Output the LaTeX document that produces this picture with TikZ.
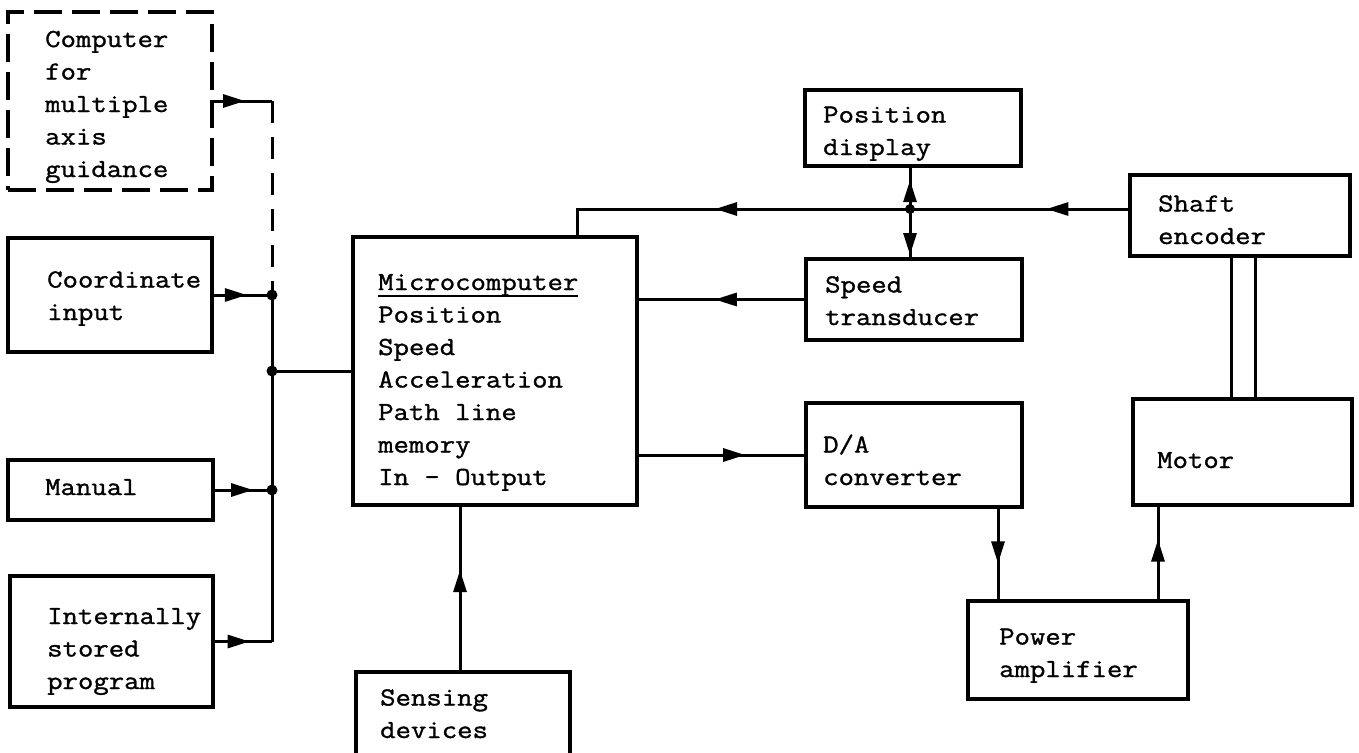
\documentclass[tikz,border=0pt]{standalone}
\usepackage{fontspec}
\newfontfamily\tw[FakeStretch=1.15,FakeBold=1.2]{Latin Modern Mono}
\usetikzlibrary{arrows.meta,decorations.markings}
\newcommand\ulword[1]{\setbox0\hbox{#1}\rlap{\rule[-7pt]{\wd0}{2.4pt}}\box0}
\begin{document}
\begin{tikzpicture}[x=1pt,y=-1pt,
  box/.style={draw,line width=3.2pt,inner sep=0pt,outer sep=0pt,anchor=north west},
  dbox/.style={box,dash pattern=on 28pt off 10pt},
  lbl/.style={anchor=base west,inner sep=0pt,align=left,font=\tw\fontsize{26}{32.5}\selectfont},
  conn/.style={line width=3pt},
  midarr/.style={postaction={decorate,decoration={markings,mark=at position #1 with {\arrow{Triangle[length=22pt,width=13pt]}}}}},
  dot/.style={circle,fill=black,inner sep=0pt,minimum size=11pt}
]
\useasboundingbox (0,0) rectangle (1359,752);
% boxes
\node[dbox,minimum width=204pt,minimum height=178pt] (comp) at (8,12) {};
\node[box,minimum width=204pt,minimum height=114pt] (coord) at (8,238) {};
\node[box,minimum width=205pt,minimum height=60pt] (manual) at (8,460) {};
\node[box,minimum width=203pt,minimum height=131pt] (intern) at (10,576) {};
\node[box,minimum width=284pt,minimum height=268pt] (micro) at (353,237) {};
\node[box,minimum width=214pt,minimum height=90pt] (sens) at (356,672) {};
\node[box,minimum width=216pt,minimum height=76pt] (posd) at (805,90) {};
\node[box,minimum width=216pt,minimum height=81pt] (speed) at (806,259) {};
\node[box,minimum width=216pt,minimum height=104pt] (da) at (806,403) {};
\node[box,minimum width=220pt,minimum height=81pt] (shaft) at (1130,175) {};
\node[box,minimum width=219pt,minimum height=106pt] (motor) at (1133,399) {};
\node[box,minimum width=220pt,minimum height=98pt] (power) at (968,601) {};
% labels (anchor = baseline of the last line)
\node[lbl] (tcomp) at (45,177) {Computer\\for\\multiple\\axis\\guidance};
\node[lbl] (tcoord) at (47,320) {Coordinate\\input};
\node[lbl] (tmanual) at (45,495) {Manual};
\node[lbl] (tintern) at (47,689) {Internally\\stored\\program};
\node[lbl] (tmicro) at (378,485) {\ulword{Microcomputer}\\Position\\Speed\\Acceleration\\Path line\\memory\\In - Output};
\node[lbl] (tsens) at (380,738) {Sensing\\devices};
\node[lbl] (tposd) at (823,155) {Position\\display};
\node[lbl] (tspeed) at (825,325) {Speed\\transducer};
\node[lbl] (tda) at (823,485) {D/A\\converter};
\node[lbl] (tshaft) at (1158,244) {Shaft\\encoder};
\node[lbl] (tmotor) at (1157,468) {Motor};
\node[lbl] (tpower) at (999,677) {Power\\amplifier};
% helper coordinates
\coordinate (busx) at (272,0);
\coordinate (fb) at (910,209);
\coordinate (mtop) at (577,237);
\coordinate (dax) at (998,0);
\coordinate (mx) at (1158,0);
\coordinate (sx) at (460,0);
\coordinate (sm1) at (1231,0);
\coordinate (sm2) at (1255,0);
% left bus
\draw[conn,midarr=0.55] (comp.east) -- (comp.east -| busx);
\draw[conn,dash pattern=on 22pt off 14pt] (comp.east -| busx) -- (coord.east -| busx);
\draw[conn] (coord.east -| busx) -- (intern.east -| busx);
\draw[conn,midarr=0.58] (coord.east) -- (coord.east -| busx);
\draw[conn,midarr=0.68] (manual.east) -- (manual.east -| busx);
\draw[conn,midarr=0.62] (intern.east) -- (intern.east -| busx);
\draw[conn] (micro.west -| busx) -- (micro.west);
\node[dot] (d1) at (coord.east -| busx) {};
\node[dot] (d2) at (micro.west -| busx) {};
\node[dot] (d3) at (manual.east -| busx) {};
% feedback
\draw[conn,midarr=0.38] (shaft.west |- fb) -- (fb);
\draw[conn,midarr=0.54] (fb) -| (mtop);
\draw[conn,midarr=0.67] (fb) -- (posd.south -| fb);
\draw[conn,midarr=0.92] (fb) -- (speed.north -| fb);
\node[dot,minimum size=10pt] (d4) at (fb) {};
\draw[conn,midarr=0.54] (speed.west) -- (speed.west -| micro.east);
\draw[conn,midarr=0.64] (da.west -| micro.east) -- (da.west);
\draw[conn,midarr=0.6] (da.south -| dax) -- (power.north -| dax);
\draw[conn,midarr=0.64] (power.north -| mx) -- (motor.south -| mx);
\draw[conn,midarr=0.61] (sens.north -| sx) -- (micro.south -| sx);
\draw[conn] (shaft.south -| sm1) -- (motor.north -| sm1);
\draw[conn] (shaft.south -| sm2) -- (motor.north -| sm2);
\end{tikzpicture}
\end{document}
